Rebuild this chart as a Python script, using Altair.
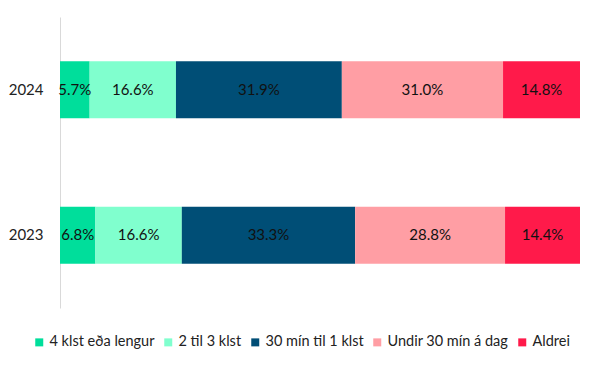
import altair as alt
import pandas as pd

years = ["2024", "2023"]
categories = ["4 klst eða lengur", "2 til 3 klst", "30 mín til 1 klst", "Undir 30 mín á dag", "Aldrei"]
values_2024 = [5.7, 16.6, 31.9, 31.0, 14.8]
values_2023 = [6.8, 16.6, 33.3, 28.8, 14.4]
colors = ["#00DE9B", "#80FFCE", "#004E76", "#FF9EA4", "#FF1A4A"]

rows = []
for y, vals in zip(years, [values_2024, values_2023]):
    for i, (c, v) in enumerate(zip(categories, vals)):
        rows.append({"year": y, "cat": c, "value": v, "order": i, "label": f"{v:.1f}%"})
df = pd.DataFrame(rows)

base = alt.Chart(df).transform_stack(
    stack="value", groupby=["year"], as_=["s0", "s1"], sort=[alt.SortField("order", order="ascending")]
).transform_joinaggregate(
    total="sum(value)", groupby=["year"]
).transform_calculate(
    x0="datum.s0 / datum.total",
    x1="datum.s1 / datum.total",
    xm="(datum.s0 + datum.s1) / 2 / datum.total",
)

yenc = alt.Y("year:N", sort=years, title=None,
             scale=alt.Scale(paddingInner=0.608, paddingOuter=0.304),
             axis=alt.Axis(ticks=False, labelFontSize=15, labelFont="Lato", labelColor="#222",
                           domainColor="#d9d9d9", labelPadding=17))

bars = base.mark_bar().encode(
    x=alt.X("x0:Q", scale=alt.Scale(domain=[0, 1]), axis=None),
    x2="x1:Q",
    y=yenc,
    color=alt.Color("cat:N", sort=categories,
                    scale=alt.Scale(domain=categories, range=colors),
                    legend=alt.Legend(title=None, orient="none", direction="horizontal",
                                      legendX=-28, legendY=318, symbolType="square",
                                      symbolSize=64, symbolStrokeWidth=0, labelFontSize=14.5,
                                      labelFont="Lato", labelColor="#222", columnPadding=6,
                                      symbolOffset=0, labelOffset=3)),
)

text = base.mark_text(fontSize=15, font="Lato", color="#111").encode(
    x="xm:Q",
    y=alt.Y("year:N", sort=years),
    text="label:N",
)

chart = (bars + text).properties(
    width=520, height=291,
    autosize=alt.AutoSizeParams(type="none"),
    padding={"left": 52, "top": 9, "right": 11, "bottom": 50},
).configure_view(stroke=None)

chart.save("out.html", embed_options={"renderer": "svg", "actions": False})
